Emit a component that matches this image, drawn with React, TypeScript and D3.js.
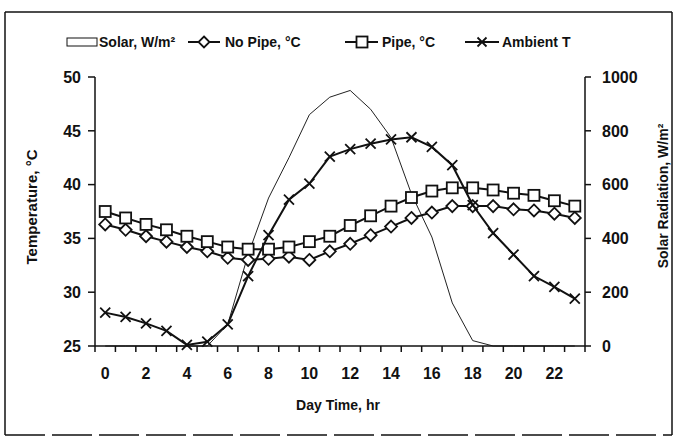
import React from "react";
import * as d3 from "d3";

const hours = d3.range(0, 24);
const xTickLabels = ["0", "2", "4", "6", "8", "10", "12", "14", "16", "18", "20", "22"];
const solar = [0, 0, 0, 0, 0, 0, 80, 340, 550, 700, 860, 925, 950, 880, 775, 565, 405, 160, 20, 0, 0, 0, 0, 0];
const noPipe = [36.3, 35.8, 35.2, 34.7, 34.2, 33.8, 33.2, 33.0, 33.1, 33.3, 33.0, 33.8, 34.5, 35.3, 36.1, 36.9, 37.4, 38.0, 38.0, 38.0, 37.7, 37.6, 37.3, 36.9];
const pipe = [37.5, 36.9, 36.3, 35.8, 35.2, 34.7, 34.2, 34.0, 34.0, 34.2, 34.7, 35.2, 36.2, 37.1, 38.0, 38.8, 39.4, 39.7, 39.7, 39.5, 39.2, 39.0, 38.5, 38.0];
const ambient = [28.1, 27.7, 27.1, 26.4, 25.1, 25.4, 27.0, 31.5, 35.3, 38.6, 40.1, 42.6, 43.3, 43.8, 44.2, 44.4, 43.5, 41.8, 38.1, 35.5, 33.5, 31.5, 30.5, 29.4];
const tempTicks = [25, 30, 35, 40, 45, 50];
const solarTicks = [0, 200, 400, 600, 800, 1000];

const W = 675;
const H = 438;
const L = 95, R = 585, T = 77, B = 346;
const INK = "#111";
const FONT = "'Liberation Sans', Arial, sans-serif";

const x = d3.scaleBand<number>().domain(hours).range([L, R]).padding(0);
const cx = (h: number) => (x(h) as number) + x.bandwidth() / 2;
const yT = d3.scaleLinear().domain([25, 50]).range([B, T]);
const yS = d3.scaleLinear().domain([0, 1000]).range([B, T]);

const Diamond = ({ x, y, s = 6 }: { x: number; y: number; s?: number }) => (
  <path d={`M${x},${y - s}L${x + s},${y}L${x},${y + s}L${x - s},${y}Z`} fill="#fff" stroke={INK} strokeWidth={1.8} />
);
const Square = ({ x, y, s = 5.5 }: { x: number; y: number; s?: number }) => (
  <rect x={x - s} y={y - s} width={2 * s} height={2 * s} fill="#fff" stroke={INK} strokeWidth={1.8} />
);
const Cross = ({ x, y, s = 5 }: { x: number; y: number; s?: number }) => (
  <path d={`M${x - s},${y - s}L${x + s},${y + s}M${x - s},${y + s}L${x + s},${y - s}`} stroke={INK} strokeWidth={1.8} />
);

export default function App() {
  const solarLine = d3.line<number>().x((_, i) => cx(hours[i])).y((d) => yS(d))(solar) as string;
  const tLine = (arr: number[]) => d3.line<number>().x((_, i) => cx(hours[i])).y((d) => yT(d))(arr) as string;
  const boundaries = d3.range(0, 25).map((i) => L + i * x.bandwidth());
  return (
    <svg width={W} height={H} style={{ position: "absolute", left: 0, top: 0, background: "#fff" }} fontFamily={FONT}>
      <rect x={0} y={0} width={W} height={H} fill="#fff" />
      {/* frame */}
      <line x1={5} y1={12} x2={672} y2={12} stroke={INK} strokeWidth={1.5} />
      <line x1={5} y1={12} x2={5} y2={435} stroke={INK} strokeWidth={1.5} />
      <line x1={672} y1={12} x2={672} y2={435} stroke={INK} strokeWidth={1.5} />
      <line x1={5} y1={435} x2={672} y2={435} stroke={INK} strokeWidth={1.5} strokeDasharray="40 7" />

      {/* solar */}
      <path d={solarLine} fill="none" stroke="#222" strokeWidth={1} />

      {/* axes */}
      <line x1={L} y1={T} x2={L} y2={B} stroke={INK} strokeWidth={1.5} />
      <line x1={R} y1={T} x2={R} y2={B} stroke={INK} strokeWidth={1.5} />
      <line x1={L} y1={B} x2={R} y2={B} stroke={INK} strokeWidth={1.5} />
      {tempTicks.map((t) => (
        <g key={"lt" + t}>
          <line x1={L - 7} x2={L} y1={yT(t)} y2={yT(t)} stroke={INK} strokeWidth={1.5} />
          <text x={L - 14} y={yT(t)} dy="0.36em" textAnchor="end" fontSize={16} fontWeight="bold" fill={INK}>{t}</text>
        </g>
      ))}
      {solarTicks.map((t) => (
        <g key={"rt" + t}>
          <line x1={R} x2={R + 6} y1={yS(t)} y2={yS(t)} stroke={INK} strokeWidth={1.5} />
          <text x={R + 17} y={yS(t)} dy="0.36em" textAnchor="start" fontSize={16} fontWeight="bold" fill={INK}>{t}</text>
        </g>
      ))}
      {boundaries.map((bx, i) => (
        <line key={"xt" + i} x1={bx} x2={bx} y1={B} y2={B + 6} stroke={INK} strokeWidth={1.5} />
      ))}
      {xTickLabels.map((lab) => (
        <text key={"xl" + lab} x={cx(+lab)} y={373} dy="0.36em" textAnchor="middle" fontSize={16} fontWeight="bold" fill={INK}>{lab}</text>
      ))}
      <text x={338} y={405} dy="0.36em" textAnchor="middle" fontSize={14} fontWeight="bold" fill={INK}>Day Time, hr</text>
      <text transform={`translate(32,207) rotate(-90)`} dy="0.36em" textAnchor="middle" fontSize={15} fontWeight="bold" fill={INK}>Temperature, °C</text>
      <text transform={`translate(663,196) rotate(-90)`} dy="0.36em" textAnchor="middle" fontSize={14} fontWeight="bold" fill={INK}>Solar Radiation, W/m²</text>

      {/* series */}
      <path d={tLine(noPipe)} fill="none" stroke={INK} strokeWidth={2} />
      {noPipe.map((v, i) => <Diamond key={"d" + i} x={cx(hours[i])} y={yT(v)} />)}
      <path d={tLine(pipe)} fill="none" stroke={INK} strokeWidth={2} />
      {pipe.map((v, i) => <Square key={"s" + i} x={cx(hours[i])} y={yT(v)} />)}
      <path d={tLine(ambient)} fill="none" stroke={INK} strokeWidth={2} />
      {ambient.map((v, i) => <Cross key={"c" + i} x={cx(hours[i])} y={yT(v)} />)}

      {/* legend */}
      <rect x={67} y={38} width={30} height={8} fill="#fff" stroke={INK} strokeWidth={1} />
      <text x={99} y={42} dy="0.36em" fontSize={14} fontWeight="bold" fill={INK}>Solar, W/m²</text>
      <line x1={188} x2={220} y1={42} y2={42} stroke={INK} strokeWidth={2} />
      <Diamond x={204} y={42} s={5.5} />
      <text x={225} y={42} dy="0.36em" fontSize={14} fontWeight="bold" fill={INK}>No Pipe, °C</text>
      <line x1={345} x2={378} y1={42} y2={42} stroke={INK} strokeWidth={2} />
      <Square x={362} y={42} s={5.5} />
      <text x={382} y={42} dy="0.36em" fontSize={14} fontWeight="bold" fill={INK}>Pipe, °C</text>
      <line x1={465} x2={499} y1={42} y2={42} stroke={INK} strokeWidth={2} />
      <Cross x={482} y={42} s={4.5} />
      <text x={502} y={42} dy="0.36em" fontSize={14} fontWeight="bold" fill={INK}>Ambient T</text>
    </svg>
  );
}
